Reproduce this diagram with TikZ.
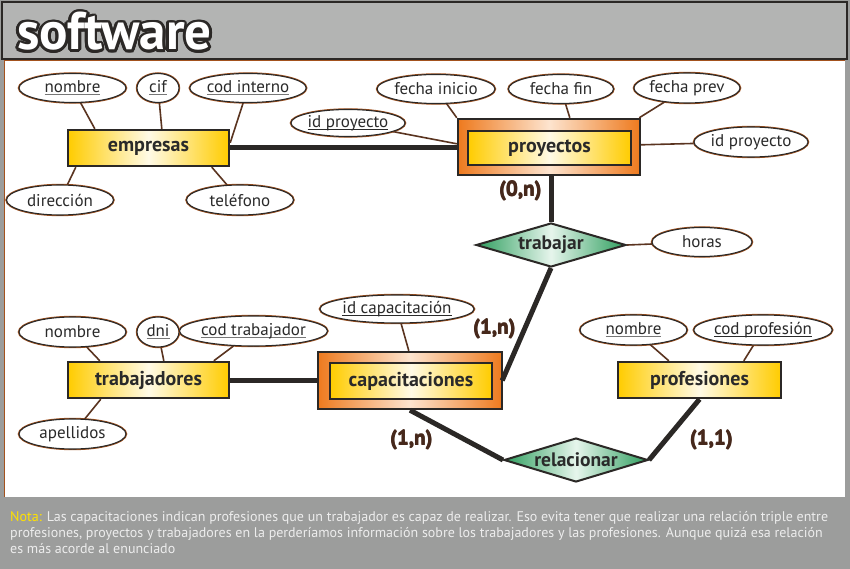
\documentclass[tikz,border=0pt]{standalone}
\usepackage{fontspec}
\setmainfont{PT Sans}
\newfontfamily\notefont[FakeStretch=1.0]{PT Sans}
\usetikzlibrary{shapes.geometric,calc}
\definecolor{pagegray}{HTML}{9C9D9C}
\definecolor{headgray}{HTML}{B3B4B3}
\definecolor{edge}{HTML}{2B2826}
\definecolor{halo}{HTML}{A3521E}
\definecolor{txt}{HTML}{2A2A2A}
\definecolor{ylw}{HTML}{FFCC00}
\definecolor{ylwc}{HTML}{FFFAE6}
\definecolor{org}{HTML}{EE7A1E}
\definecolor{orgc}{HTML}{FDE4CF}
\definecolor{grn}{HTML}{2E9E5E}
\definecolor{grnc}{HTML}{E6F5EC}
\definecolor{thin}{HTML}{5A3420}
\definecolor{cardc}{HTML}{46281B}
\definecolor{ulgray}{HTML}{777777}
\definecolor{notec}{HTML}{EDEDED}
\definecolor{notey}{HTML}{FFE100}
\newcommand\ulk[2][ulgray]{\setbox0\hbox{#2}\rlap{\textcolor{#1}{\rule[-2.2pt]{\wd0}{0.9pt}}}\box0}
\newcommand\fat[1]{\rlap{\kern0.7pt#1}\rlap{\raisebox{0.4pt}{\kern0.35pt#1}}#1}
\begin{document}
\begin{tikzpicture}[x=1pt,y=-1pt,
  attr/.style={ellipse, draw=edge, line width=1.1pt, fill=white, inner sep=0pt,
    minimum height=29pt, preaction={draw=halo, line width=2.4pt},
    font=\fontsize{17}{17}\selectfont, text=txt},
  entity/.style={rectangle, draw=edge, line width=2.4pt, inner sep=0pt,
    minimum width=161pt, minimum height=36pt,
    left color=ylw, right color=ylw, middle color=ylwc,
    font=\bfseries\fontsize{20}{20}\selectfont, text=txt},
  weakouter/.style={rectangle, draw=edge, line width=2.4pt, inner sep=0pt,
    left color=org, right color=org, middle color=orgc},
  relation/.style={diamond, draw=edge, line width=2pt, inner sep=0pt,
    minimum width=150pt, minimum height=44pt, aspect=3.4,
    left color=grn, right color=grn, middle color=grnc,
    font=\bfseries\fontsize{19.5}{20}\selectfont, text=txt},
  thick/.style={draw=edge, line width=5pt},
  attrline/.style={draw=thin, line width=1.6pt},
  card/.style={font=\bfseries\fontsize{21}{21}\selectfont, text=cardc, inner sep=0pt},
  notestyle/.style={anchor=base west, inner sep=0pt, text=notec,
    font=\notefont\fontsize{14}{16}\selectfont}]
\useasboundingbox (0,0) rectangle (850,569);
% background, canvas and header
\fill[pagegray] (0,0) rectangle (850,569);
\fill[white] (4,60) rectangle (845,497);
\draw[halo, line width=0.8pt] (4,497) -- (4,60) -- (845,60);
\draw[fill=headgray, draw=edge, line width=2.5pt] (2,2) rectangle (847,59);
\foreach \a in {0,20,...,340}
  \node[anchor=base west, inner sep=0pt, text=edge, font=\bfseries\fontsize{53}{53}\selectfont]
    (title\a) at ($(17,50)+(\a:2.8)$) {software};
\node[anchor=base west, inner sep=0pt, text=white, font=\bfseries\fontsize{53}{53}\selectfont]
  (title) at (17,50) {software};

% entities
\node[entity] (empresas) at (148.5,148) {empresas};
\node[weakouter, minimum width=182pt, minimum height=56pt] (proyectos-o) at (549,147) {};
\node[entity, minimum width=163pt, minimum height=34pt] (proyectos) at (549.5,148) {proyectos};
\node[entity] (trabajadores) at (148.5,380) {trabajadores};
\node[weakouter, minimum width=184pt, minimum height=57pt] (capacitaciones-o) at (410,380.5) {};
\node[entity, minimum width=162pt, minimum height=36pt] (capacitaciones) at (411,381) {capacitaciones};
\node[entity, minimum width=163pt] (profesiones) at (699.5,380) {profesiones};

% relations
\node[relation] (trabajar) at (551,245) {trabajar};
\node[relation, minimum width=144pt] (relacionar) at (576,460) {relacionar};

% attributes
\node[attr, minimum width=107pt] (emp-nombre) at (72.5,88) {\ulk{nombre}};
\node[attr, minimum width=42pt] (emp-cif) at (158,88) {\ulk{cif}};
\node[attr, minimum width=104pt] (emp-cod) at (248,88) {\ulk{cod interno}};
\node[attr, minimum width=107pt, minimum height=30pt] (emp-dir) at (60,200) {dirección};
\node[attr, minimum width=107pt, minimum height=30pt] (emp-tel) at (240,200) {teléfono};

\node[attr, minimum width=107pt, minimum height=27pt] (pr-id) at (348,123) {\ulk[txt]{id proyecto}};
\node[attr, minimum width=106pt] (pr-fi) at (436,89) {fecha inicio};
\node[attr, minimum width=105pt] (pr-ff) at (561,89) {fecha fin};
\node[attr, minimum width=106pt, minimum height=30pt] (pr-fp) at (687,88) {fecha prev};
\node[attr, minimum width=106pt, minimum height=30pt] (pr-id2) at (751,142) {id proyecto};

\node[attr, minimum width=100pt] (horas) at (702,242) {horas};
\node[attr, minimum width=138pt, minimum height=28pt] (cap-id) at (397,309) {\ulk[txt]{id capacitación}};

\node[attr, minimum width=107pt, minimum height=30pt] (tr-nombre) at (72.5,332) {nombre};
\node[attr, minimum width=42pt, minimum height=30pt] (tr-dni) at (158,332) {\ulk{dni}};
\node[attr, minimum width=139pt, minimum height=30pt] (tr-cod) at (253.5,331) {\ulk{cod trabajador}};
\node[attr, minimum width=107pt, minimum height=30pt] (tr-ape) at (72.5,434) {apellidos};

\node[attr, minimum width=107pt, minimum height=30pt] (pf-nombre) at (633.5,330) {\ulk{nombre}};
\node[attr, minimum width=128pt, minimum height=30pt] (pf-cod) at (763,330) {\ulk[txt]{cod profesión}};

% thick connectors
\draw[thick] (empresas.east) -- (empresas.east -| proyectos-o.west);
\draw[thick] (proyectos-o.south -| trabajar.north) -- (trabajar.north);
\draw[thick] (trabajar.south) -- ($(capacitaciones-o.east)+(-1,0)$);
\draw[thick] (trabajadores.east) -- (trabajadores.east -| capacitaciones-o.west);
\draw[thick] (capacitaciones-o.south) -- (relacionar.west);
\draw[thick] (relacionar.east) -- (profesiones.south);

% attribute connectors
\draw[attrline] (emp-nombre) -- ($(empresas.north west)+(28,0)$);
\draw[attrline] (emp-cif) -- ($(empresas.north west)+(95,0)$);
\draw[attrline] (emp-cod) -- ($(empresas.north east)+(0,14)$);
\draw[attrline] (emp-dir) -- ($(empresas.south west)+(9,0)$);
\draw[attrline] (emp-tel) -- ($(empresas.south west)+(145,0)$);

\draw[attrline] (pr-id) -- ($(proyectos-o.north west)+(0,26)$);
\draw[attrline] (pr-fi) -- (proyectos-o.north west);
\draw[attrline] (pr-ff) -- ($(proyectos-o.north west)+(113,0)$);
\draw[attrline] (pr-fp) -- ($(proyectos-o.north east)+(-2,0)$);
\draw[attrline] (pr-id2) -- ($(proyectos-o.north east)+(0,27)$);

\draw[attrline] (trabajar.east) -- (horas);
\draw[attrline] (cap-id) -- ($(capacitaciones-o.north west)+(92,0)$);

\draw[attrline] (tr-nombre) -- ($(trabajadores.north west)+(33,0)$);
\draw[attrline] (tr-dni) -- ($(trabajadores.north west)+(97,0)$);
\draw[attrline] (tr-cod) -- ($(trabajadores.north west)+(147,0)$);
\draw[attrline] (tr-ape) -- ($(trabajadores.south west)+(34,0)$);

\draw[attrline] (pf-nombre) -- ($(profesiones.north west)+(52,0)$);
\draw[attrline] (pf-cod) -- ($(profesiones.north west)+(127,0)$);

% cardinalities
\node[card] (c-on) at (520,191) {\fat{(0,n)}};
\node[card] (c-1n-a) at (494,329) {\fat{(1,n)}};
\node[card] (c-1n-b) at (411,440) {\fat{(1,n)}};
\node[card] (c-11) at (711,440) {\fat{(1,1)}};

% note
\node[notestyle] (note1) at (10,521) {\textcolor{notey}{Nota:} Las capacitaciones indican profesiones que un trabajador es capaz de realizar. Eso evita tener que realizar una relación triple entre};
\node[notestyle] (note2) at (10,537) {profesiones, proyectos y trabajadores en la perderíamos información sobre los trabajadores y las profesiones. Aunque quizá esa relación};
\node[notestyle] (note3) at (10,553) {es más acorde al enunciado};
\end{tikzpicture}
\end{document}
